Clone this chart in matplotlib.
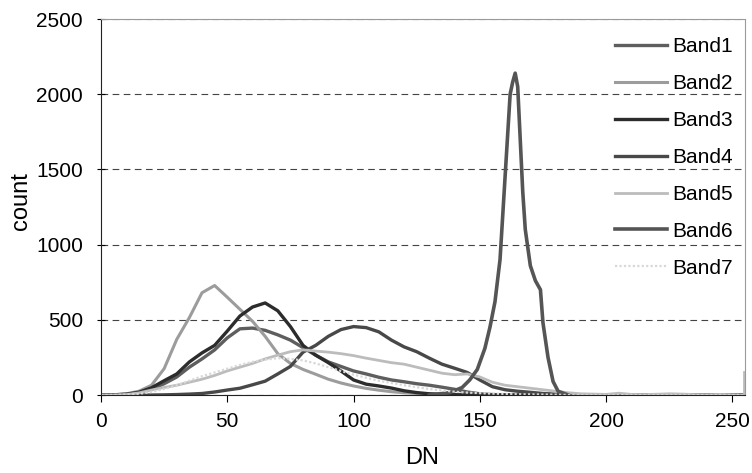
import matplotlib
matplotlib.use('Agg')
import matplotlib.pyplot as plt

plt.rcParams['font.family'] = ['Liberation Sans', 'DejaVu Sans']

# DN grid for the broad histograms (step 5)
dn = [0, 5, 10, 15, 20, 25, 30, 35, 40, 45, 50, 55, 60, 65, 70, 75, 80, 85, 90, 95,
      100, 105, 110, 115, 120, 125, 130, 135, 140, 145, 150, 155, 160, 165, 170, 175,
      180, 185, 190, 195, 200, 205, 210, 215, 220, 225, 230, 235, 240, 245, 250, 255]

band1 = [0, 1, 4, 14, 38, 75, 120, 185, 240, 300, 380, 440, 445, 430, 400, 365, 315, 265, 220, 190,
         160, 140, 118, 100, 88, 75, 65, 52, 38, 20, 8, 3, 1, 0, 0, 0,
         0, 0, 0, 0, 0, 0, 0, 0, 0, 0, 0, 0, 0, 0, 0, 0]
band2 = [0, 2, 8, 25, 65, 175, 370, 515, 680, 728, 650, 570, 490, 390, 275, 210, 170, 138, 105, 80,
         60, 44, 32, 22, 15, 10, 7, 5, 3, 2, 1, 0, 0, 0, 0, 0,
         0, 0, 0, 0, 0, 0, 0, 0, 0, 0, 0, 0, 0, 0, 0, 0]
band3 = [0, 1, 5, 18, 48, 95, 140, 220, 280, 330, 425, 525, 585, 612, 560, 455, 330, 265, 215, 160,
         100, 72, 60, 46, 28, 16, 8, 4, 2, 1, 0, 0, 0, 0, 0, 0,
         0, 0, 0, 0, 0, 0, 0, 0, 0, 0, 0, 0, 0, 0, 0, 0]
band4 = [0, 0, 0, 0, 0, 1, 3, 6, 10, 20, 33, 45, 68, 92, 140, 190, 285, 330, 390, 435,
         455, 448, 420, 365, 320, 288, 245, 205, 178, 150, 100, 55, 35, 25, 18, 10,
         6, 3, 2, 0, 0, 0, 0, 0, 0, 0, 0, 0, 0, 0, 0, 0]
band5 = [0, 0, 3, 14, 33, 50, 65, 85, 105, 130, 160, 185, 210, 240, 265, 288, 300, 292, 285, 275,
         262, 245, 230, 215, 205, 185, 165, 145, 135, 140, 120, 85, 65, 55, 45, 35,
         25, 15, 8, 6, 4, 12, 4, 3, 5, 8, 6, 3, 2, 4, 2, 0]
band7 = [0, 0, 2, 8, 20, 40, 65, 95, 125, 150, 175, 200, 220, 235, 245, 240, 230, 210, 185, 160,
         135, 115, 95, 80, 65, 52, 40, 30, 22, 16, 12, 9, 7, 5, 4, 3,
         2, 0, 0, 0, 0, 0, 0, 0, 0, 0, 0, 0, 0, 0, 0, 0]

# band 6 is narrow, read on a finer grid
band6_dn = [130, 138, 143, 146, 149, 152, 154, 156, 158, 160, 162, 163, 164, 165, 166, 167,
            168, 170, 172, 174, 175, 177, 179, 181, 185]
band6 = [0, 15, 50, 100, 170, 310, 450, 620, 900, 1450, 2000, 2080, 2140, 2050, 1700, 1350,
         1100, 860, 760, 700, 480, 250, 90, 25, 0]

# spike in the last bin
spike_dn = [254.6, 254.6]
spike = [0, 150]

fig = plt.figure(figsize=(7.52, 4.73), dpi=100)
ax = fig.add_axes([0.1343, 0.1649, 0.8564, 0.7949])

ax.plot(dn, band1, color='#5e5e5e', lw=2.4, label='Band1')
ax.plot(dn, band2, color='#9c9c9c', lw=2.2, label='Band2')
ax.plot(dn, band3, color='#2c2c2c', lw=2.4, label='Band3')
ax.plot(dn, band4, color='#484848', lw=2.4, label='Band4')
ax.plot(dn, band5, color='#bcbcbc', lw=2.0, label='Band5')
ax.plot(band6_dn, band6, color='#555555', lw=2.6, label='Band6')
ax.plot(dn, band7, color='#d8d8d8', lw=1.6, ls=(0, (1, 1)), label='Band7')
ax.plot(spike_dn, spike, color='#bcbcbc', lw=2.0)

ax.set_xlim(0, 255)
ax.set_ylim(0, 2500)
ax.set_xticks([0, 50, 100, 150, 200, 250])
ax.set_yticks([0, 500, 1000, 1500, 2000, 2500])
ax.yaxis.grid(True, color='#444444', lw=0.8, ls=(0, (6, 4)))
ax.set_axisbelow(True)

for s in ['top', 'right']:
    ax.spines[s].set_color('#9a9a9a')
    ax.spines[s].set_linestyle((0, (2, 1)))
for s in ['left', 'bottom']:
    ax.spines[s].set_color('#222222')

ax.tick_params(axis='y', direction='inout', length=6, pad=10, labelsize=15)
ax.tick_params(axis='x', direction='out', length=5, pad=7, labelsize=15)

ax.set_xlabel('DN', fontsize=17)
ax.set_ylabel('count', fontsize=17)
ax.xaxis.set_label_coords(0.498, -0.138)
ax.yaxis.set_label_coords(-0.107, 0.516)

fig.legend(loc='upper left', bbox_to_anchor=(0.818, 0.9215), frameon=False, fontsize=15,
           handlelength=2.5, handletextpad=0.25, labelspacing=0.86, borderpad=0, borderaxespad=0)

plt.savefig('out.png', dpi=100)
